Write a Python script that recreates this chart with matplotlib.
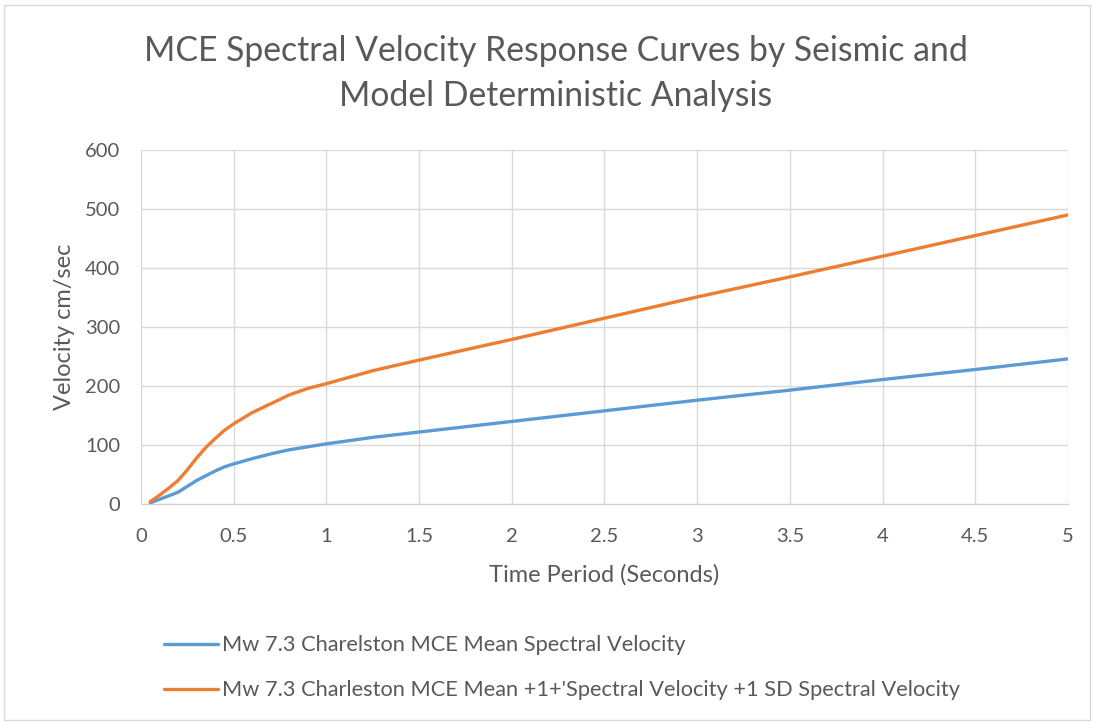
import matplotlib.pyplot as plt
from matplotlib.patches import Rectangle

# spectral velocity response values (cm/sec) against period (s)
period = [0.05, 0.1, 0.15, 0.2, 0.25, 0.3, 0.35, 0.4, 0.45, 0.5, 0.6, 0.7, 0.8, 0.9,
          1.0, 1.25, 1.5, 2.0, 2.5, 3.0, 3.5, 4.0, 4.5, 5.0]
mean_sv = [2, 8, 14, 20, 30, 40, 48, 56, 63, 68, 77, 85, 92, 97,
           102, 113, 122, 140, 158, 176, 193, 211, 228, 246]
mean_sd_sv = [4, 15, 27, 40, 58, 78, 96, 111, 125, 136, 155, 170, 185, 196,
              204, 226, 244, 279, 315, 351, 385, 420, 455, 490]

label_mean = "Mw 7.3 Charelston MCE Mean Spectral Velocity"
label_sd = "Mw 7.3 Charleston MCE Mean +1+'Spectral Velocity +1 SD Spectral Velocity"

plt.rcParams['font.family'] = ['Lato', 'DejaVu Sans']
txt = '#595959'

fig = plt.figure(figsize=(10.94, 7.22), dpi=100)
fig.patches.append(Rectangle((0.004, 0.003), 0.992, 0.99, transform=fig.transFigure,
                             fill=False, edgecolor='#d9d9d9', linewidth=1))

ax = fig.add_axes([0.1289, 0.3019, 0.8473, 0.4903])
l1, = ax.plot(period, mean_sv, color='#5B9BD5', linewidth=2.4, solid_capstyle='round')
l2, = ax.plot(period, mean_sd_sv, color='#ED7D31', linewidth=2.4, solid_capstyle='round')

ax.set_xlim(0, 5)
ax.set_ylim(0, 600)
ax.set_xticks([0, 0.5, 1, 1.5, 2, 2.5, 3, 3.5, 4, 4.5, 5])
ax.set_xticklabels(['0', '0.5', '1', '1.5', '2', '2.5', '3', '3.5', '4', '4.5', '5'])
ax.set_yticks(range(0, 601, 100))
ax.grid(True, color='#d9d9d9', linewidth=1)
ax.set_axisbelow(True)
for s in ['top', 'right', 'left']:
    ax.spines[s].set_visible(False)
ax.spines['bottom'].set_color('#d0d0d0')
ax.tick_params(length=0, labelsize=14.5, colors=txt)
ax.tick_params(axis='x', pad=17)
ax.tick_params(axis='y', pad=15)

ax.set_xlabel("Time Period (Seconds)", fontsize=17, color=txt, labelpad=14)
ax.set_ylabel("Velocity cm/sec", fontsize=17, color=txt, labelpad=7)

fig.text(0.508, 0.951, "MCE Spectral Velocity Response Curves by Seismic and\nModel Deterministic Analysis",
         ha='center', va='top', fontsize=24.3, color=txt, linespacing=1.5)

fig.legend([l1, l2], [label_mean, label_sd], loc='upper left',
           bbox_to_anchor=(0.1316, 0.147), frameon=False, fontsize=15.7,
           labelcolor=txt, handlelength=2.5, handletextpad=0.2, labelspacing=1.14)

plt.savefig("out.png", dpi=100)
